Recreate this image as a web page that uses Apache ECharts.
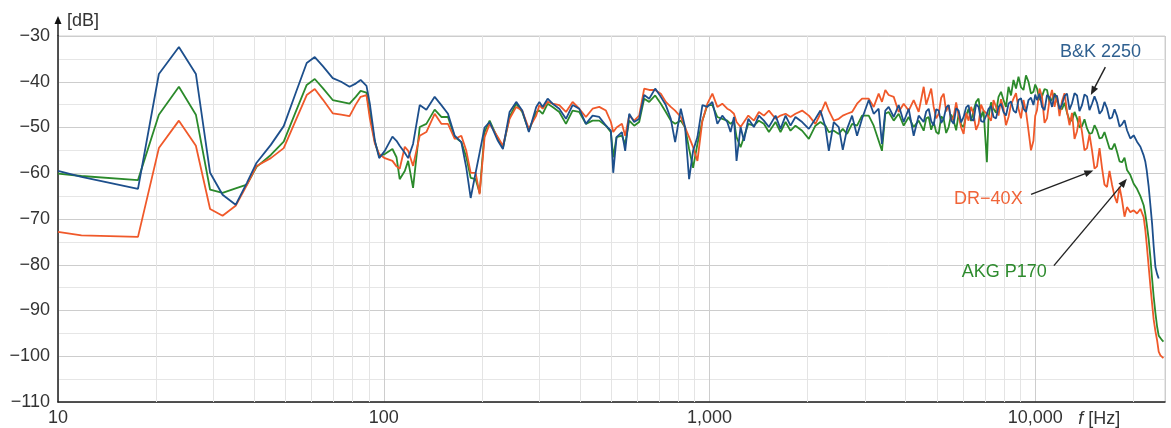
<!DOCTYPE html>
<html><head><meta charset="utf-8">
<script src="https://cdn.jsdelivr.net/npm/echarts@6/dist/echarts.min.js"></script>
<style>html,body{margin:0;padding:0;background:#fff}#c{width:1171px;height:428px}</style>
</head><body><div id="c"></div>
<script>
// Frequencies [Hz] shared by all three measurements
const freqs = [
10,11.8,17.6,20.4,23.5,26.5,29.3,32,35.1,38,40.7,45,49.3,54,58,61.4,65,69.7,74,78.5,82,84.9,88.5,
90.6,93.9,96.8,100.7,106.3,109.4,111.9,116,118.8,123,128.9,135.1,143.3,150.2,157.4,165.1,173,179.2,184.8,191.4,196.9,203.9,211.3,224,232.1,243.3,255,266,278.8,293.7,
300.3,307.4,318.4,329.8,345.7,362.4,379.8,398.1,417.3,437.4,458.5,480.7,497.9,506.1,518.2,538.2,550.8,566.6,587,608,630,652.6,680.8,708.5,734,760.3,784,815.9,841.3,865.3,890,917.7,950.6,984.7,1020,1056.6,
1094,1133,1160,1188,1210,1245,1275,1315,1368,1417,1468,1521,1594,1651,1711,1772,1835,1924,2017,2113,2189,2268,2323,2406,2492,2564,2643,2738,2836,2938,3080,3190,3304,3382,3463,3546,
3675,3806,3943,4085,4232,4384,4542,4623,4705,4789,4874,4961,5050,5140,5231,5324,5418,5515,5613,5713,5814,5918,6023,6130,6237,6349,6462,6577,6694,6814,6935,7100,7184,7311,7440,7573,7708,7845,7984,8127,8272,8419,8569,8722,8877,9035,9195,9359,9526,9695,9867,9990,
10118,10300,10483,10670,10860,11050,11251,11450,11655,11860,12074,12290,12508,12730,12958,13190,13424,13660,13907,14150,14407,14660,14925,15190,15462,15740,16018,16300,16594,16890,17191,17500,17809,18130,18450,18780,19113,
19568,20035,20512,21010,21500,21760,21965,22280,22550,22820,23080,23360,23640,23910,24200,24490,24720
];
// B&K 2250 [dB]
const bk2250 = [
-59.5,-60.8,-63.4,-38.3,-32.4,-38.3,-59.9,-64.7,-66.9,-62.1,-57.7,-53.8,-49.7,-41.9,-35.9,-34.6,-36.6,-39.2,-40,-41.1,-40.4,-39.6,-40.9,
-44.8,-52.9,-56.7,-55.1,-52,-52.9,-54,-55.5,-56.7,-53.6,-45.1,-46.1,-43.3,-45.1,-47,-51.8,-53.2,-58.8,-65.4,-59.9,-55.5,-50,-48.8,-52.9,-54.7,-46.6,-44.4,-46.3,-51,-45.5,
-44.4,-45.5,-43.7,-44.8,-45.9,-48.1,-45.1,-45.9,-49.2,-47.4,-47.7,-49.6,-50.7,-59.9,-52.1,-51,-55.1,-47,-48.8,-48.1,-42.9,-43.7,-41.5,-43.3,-45.1,-48.1,-53.2,-45.9,-50,-61.3,-55.1,-52.1,-45.1,-45.5,-44.4,-49.2,
-47.4,-48.8,-51,-47.7,-57.3,-49.9,-52.9,-48.1,-49.9,-47.4,-48.5,-49.9,-47.4,-50.3,-47.4,-49.6,-47.7,-48.8,-50.3,-48.1,-46.3,-49.9,-55.1,-48.8,-49.9,-54.9,-50.3,-47.4,-51.8,-48.1,-44,-47,-45.9,-53.6,-46.3,-45.5,
-47.7,-45.1,-48.8,-45.9,-51.8,-47.4,-48.8,-46.5,-45.9,-48.6,-49.6,-46,-46.3,-49,-48.1,-45.6,-45.1,-48.4,-49.2,-45.8,-46.3,-48.9,-47.7,-45.6,-45.1,-48.2,-48.5,-44.9,-45.5,-48.6,-48.8,-47,-45.9,-45.3,-47.7,-48,-45.5,-44.8,-46.6,-47.4,-44.8,-44.3,-46.3,-46.8,-44,-43.6,-45.9,-46.6,-44,-43.5,-45.1,-42.8,
-44,-42.6,-45.5,-46.2,-42.9,-43.4,-45.5,-42.8,-43.2,-46,-45,-43.1,-42.6,-46.1,-44.7,-42.5,-43,-46.4,-45.1,-42.8,-43.2,-46.2,-44.8,-43.2,-44.6,-47,-46.3,-44.4,-45.8,-48.1,-47.8,-46,-47.5,-49.8,-49.3,-48.4,-50.6,
-52.4,-51.7,-53.1,-54.2,-56.1,-57.5,-59.3,-63,-67,-71,-76,-80.5,-82,-83,null,null,null
];
// AKG P170 [dB]
const akgP170 = [
-60.1,-60.6,-61.5,-47.2,-41.1,-47.2,-63.6,-64.3,-63.3,-62.5,-58.6,-56,-53.1,-46.1,-40.7,-39.4,-41.4,-44,-44.4,-44.8,-43.3,-42,-42.4,
-47,-53.2,-56.2,-55.8,-54.7,-56.5,-61.3,-59.5,-57.3,-63.2,-49.9,-49.2,-46.1,-47.7,-47.7,-52.1,-53.2,-56.5,-61,-61.3,-64.3,-51,-48.5,-52.5,-54.5,-47.7,-44.8,-46.6,-50.7,-46.6,
-46.3,-47,-44.8,-45.5,-46.6,-49.2,-46.3,-46.6,-49.2,-48.5,-48.5,-49.6,-51,-56.5,-52.1,-51.8,-53.6,-48.5,-49.6,-48.8,-43.7,-44.4,-43,-44.8,-46.6,-48.5,-49.2,-48.5,-50,-54.7,-58.8,-53.6,-48.5,-45.1,-45.1,-47.7,
-48.1,-48.5,-49.2,-48.5,-52.1,-54.3,-52.1,-49.2,-49.6,-48.5,-49.2,-51,-48.8,-51,-48.8,-50.7,-49.6,-50.7,-52.5,-49.6,-48.8,-49.6,-51,-50.7,-51.4,-50.3,-51.4,-49.2,-49.6,-47.4,-47.4,-49.6,-52.9,-55.1,-47,-46.6,
-48.5,-47,-49.6,-47.7,-49.9,-48.5,-50.7,-48,-47.7,-50.5,-48.8,-51,-51.4,-47.6,-48.1,-51.2,-49.9,-47.2,-48.5,-50.6,-47,-49.4,-49.9,-47.4,-45.9,-48.6,-46.3,-44.4,-43.7,-47.8,-46.3,-57.6,-47.7,-44.5,-45.9,-46.8,-43.3,-42.2,-44,-45.5,-41.1,-43,-39.6,-41.5,-38.9,-41.2,-41.8,-38.6,-40,-42.6,-42.2,-40.6,
-41.5,-44,-43.2,-41.6,-41.8,-44.5,-43.8,-42.5,-44.2,-45.8,-46,-44.6,-46.8,-48.4,-48.5,-46.6,-48,-50,-49.7,-48.2,-50.2,-51.4,-51.2,-49.5,-50.6,-52.4,-52.2,-51,-52.8,-54.6,-54.7,-53.5,-55.3,-57.4,-57.6,-56.6,-59.3,
-60.4,-62.3,-63.4,-65,-67,-69,-71,-74.5,-78.5,-83,-87,-90.5,-93.5,-95.5,-96,-96.5,-96.8
];
// DR-40X [dB]
const dr40x = [
-72.8,-73.6,-73.9,-54.5,-48.5,-54,-67.8,-69.3,-67.1,-62.6,-58.4,-56.7,-54.5,-48,-42.9,-41.6,-43.9,-46.9,-47.2,-47.5,-45,-43.3,-42.9,
-48,-53.5,-55.8,-56.7,-57.3,-58.5,-59,-54.2,-55.1,-58.4,-51.8,-51,-47,-49.2,-49.2,-52.5,-51.8,-55.1,-59.9,-59.9,-64.6,-52.1,-49.2,-52.1,-54,-48.1,-45.5,-46.3,-50.3,-47.4,
-45.1,-45.9,-44.4,-44.8,-45.1,-46.6,-44.4,-45.9,-47.7,-45.9,-45.5,-46.3,-48.8,-51,-50,-49.2,-51.8,-47.4,-48.5,-47.4,-41.5,-41.8,-41.8,-42.6,-44.4,-45.5,-46.3,-47.7,-50,-52.1,-54.3,-57.3,-48.5,-44.8,-42.6,-45.5,
-44.8,-45.9,-46.3,-47,-48.8,-49.9,-48.8,-47.4,-48.5,-46.6,-47.4,-46.3,-48.1,-47.4,-47,-47.7,-47,-46.3,-47.4,-49.2,-47,-44.4,-46.3,-48.5,-48.1,-47.4,-47,-46.6,-44.8,-43.7,-43.7,-45.5,-42.6,-44.4,-41.8,-42.9,
-43.3,-46.6,-44.8,-46.3,-44,-46.6,-41.1,-45,-43.3,-41.5,-45.5,-48,-47,-43.5,-42.6,-46.5,-45.1,-48.5,-47.7,-44.5,-47.4,-50,-51.4,-46.8,-48.5,-45.5,-47,-50.5,-49.2,-45,-46.3,-47,-47.7,-48.5,-44,-45.5,-47.4,-43.8,-45.9,-49.5,-47.7,-45,-43.7,-42.5,-45.9,-48,-44,-46.5,-50.7,-55,-52.9,-47.5,
-46.2,-41.5,-43.3,-49,-48,-44,-41.8,-45.5,-43,-47.5,-44.2,-42.5,-46.5,-49.5,-46.8,-52.5,-50.8,-47.5,-51,-55,-54.5,-51.5,-55,-59,-58.5,-54.5,-58.8,-62.5,-63,-59.5,-62.5,-65,-66.5,-63,-65.8,-69.5,-67.4,
-68.5,-68.1,-68.8,-67.8,-69.6,-72.5,-75.5,-80.5,-84.7,-88.5,-92,-94.5,-96.5,-99,-99.8,-100.2,-100.4
];
const seriesNames = ['AKG P170', 'DR\u221240X', 'B&K 2250'];
const xTickValues = [10, 100, 1000, 10000];
const xTickLabels = ['10', '100', '1,000', '10,000'];
const yMin = -110, yMax = -30, yStep = 10;

(function () {
const FONT = '"Liberation Sans", Arial, sans-serif';
const COLORS = { 'B&K 2250': '#1d4f8c', 'AKG P170': '#2b8a2b', 'DR\u221240X': '#f0592a' };
const TEXTCOL = { 'B&K 2250': '#2f6090', 'AKG P170': '#2e8b2e', 'DR\u221240X': '#f06438' };
const valuesByName = { 'B&K 2250': bk2250, 'AKG P170': akgP170, 'DR\u221240X': dr40x };

// annotation anchors in data space
const notes = [
  { name: 'B&K 2250', text: [15850, -33.6], tail: [16400, -36.8], tip: [14800, -42.9] },
  { name: 'DR\u221240X', text: [7174, -65.7], tail: [9700, -64.6], tip: [15070, -59.4] },
  { name: 'AKG P170', text: [8030, -81.6], tail: [11400, -80.2], tip: [19100, -61.2] }
];

const minorFreqs = [];
for (let d = 10; d <= 10000; d *= 10) for (let k = 2; k <= 9; k++) if (d * k < 25000) minorFreqs.push(d * k);

const chart = echarts.init(document.getElementById('c'), null, { renderer: 'canvas' });

const series = [{
  type: 'line', data: [], silent: true, z: 1,
  markLine: {
    silent: true, symbol: 'none', animation: false,
    label: { show: false },
    lineStyle: { color: '#e4e4e4', type: 'solid', width: 1 },
    data: minorFreqs.map(f => ({ xAxis: f }))
  }
}];
seriesNames.forEach(n => {
  series.push({
    name: n, type: 'line', z: 10, showSymbol: false, symbol: 'none',
    connectNulls: false, animation: false,
    lineStyle: { color: COLORS[n], width: 1.8 },
    itemStyle: { color: COLORS[n] },
    data: freqs.map((f, i) => [f, valuesByName[n][i]])
  });
});

chart.setOption({
  animation: false,
  grid: { left: 58, right: 6, top: 36, bottom: 26, containLabel: false, show: true, borderColor: '#d0d0d0', borderWidth: 1 },
  xAxis: {
    type: 'log', logBase: 10, min: 10, max: 25000,
    axisLine: { show: true, onZero: false, lineStyle: { color: '#222', width: 1.5 } },
    axisTick: { show: false },
    axisLabel: {
      fontSize: 18, color: '#333', fontFamily: FONT, margin: 7, showMaxLabel: false,
      formatter: v => { const i = xTickValues.findIndex(t => Math.abs(t - v) / t < 1e-6); return i >= 0 ? xTickLabels[i] : ''; }
    },
    splitLine: { show: true, lineStyle: { color: '#cdcdcd', width: 1 } }
  },
  yAxis: {
    type: 'value', min: yMin, max: yMax, interval: yStep,
    axisLine: { show: true, onZero: false, lineStyle: { color: '#222', width: 1.5 } },
    axisTick: { show: false },
    axisLabel: { fontSize: 18, color: '#333', fontFamily: FONT, margin: 8, formatter: v => String(v).replace('-', '\u2212') },
    splitLine: { show: true, lineStyle: { color: '#cdcdcd', width: 1 } },
    minorTick: { show: false, splitNumber: 2 },
    minorSplitLine: { show: true, lineStyle: { color: '#e6e6e6', width: 1 } }
  },
  series: series
});

function px(p) { return chart.convertToPixel({ gridIndex: 0 }, p); }
function arrow(from, to, color, hl, hw) {
  const dx = to[0] - from[0], dy = to[1] - from[1];
  const len = Math.hypot(dx, dy), ux = dx / len, uy = dy / len;
  const base = [to[0] - ux * hl, to[1] - uy * hl];
  return [
    { type: 'line', z: 100, shape: { x1: from[0], y1: from[1], x2: base[0] + ux, y2: base[1] + uy }, style: { stroke: color, lineWidth: 1.4 } },
    { type: 'polygon', z: 100, shape: { points: [to, [base[0] - uy * hw, base[1] + ux * hw], [base[0] + uy * hw, base[1] - ux * hw]] }, style: { fill: color } }
  ];
}
const g = [];
notes.forEach(n => {
  const t = px(n.text);
  g.push({ type: 'text', z: 100, x: t[0], y: t[1], style: { text: n.name, fill: TEXTCOL[n.name], font: '18px ' + FONT, align: 'center', verticalAlign: 'middle' } });
  g.push(...arrow(px(n.tail), px(n.tip), '#222', 9, 3.5));
});
const yTopPx = px([10, yMax]);
g.push(...arrow([yTopPx[0], yTopPx[1]], [yTopPx[0], yTopPx[1] - 20], '#111', 8, 3.5));
g.push({ type: 'text', z: 100, x: yTopPx[0] + 9, y: yTopPx[1] - 15, style: { text: '[dB]', fill: '#333', font: '18px ' + FONT, align: 'left', verticalAlign: 'middle' } });
const p10k = px([10000, yMin]);
g.push({ type: 'text', z: 100, x: p10k[0] + 43, y: p10k[1] + 17, style: {
  text: '{i|f} [Hz]', align: 'left', verticalAlign: 'middle', fill: '#333', font: '18px ' + FONT,
  rich: { i: { fontStyle: 'italic', fontSize: 18, fontFamily: FONT, fill: '#333' } } } });
chart.setOption({ graphic: g });
})();
</script>
</body></html>
